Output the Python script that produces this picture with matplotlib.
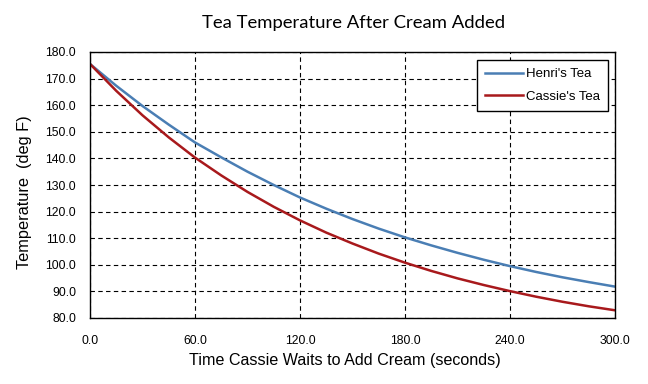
import matplotlib
matplotlib.use("Agg")
import matplotlib.pyplot as plt
from matplotlib.ticker import FixedLocator

time_s = [0, 15, 30, 45, 60, 75, 90, 105, 120, 135, 150, 165, 180,
          195, 210, 225, 240, 255, 270, 285, 300]
henri = [175.5, 167.3, 159.7, 152.7, 146.0, 140.4, 135.0, 130.0, 125.3, 121.1,
         117.2, 113.6, 110.3, 107.3, 104.5, 101.9, 99.5, 97.3, 95.3, 93.5, 91.8]
cassie = [175.5, 165.4, 156.2, 147.9, 140.3, 133.6, 127.4, 121.8, 116.7, 112.1,
          108.0, 104.2, 100.8, 97.7, 94.9, 92.4, 90.1, 88.0, 86.1, 84.4, 82.9]
x_ticks = [0, 60, 120, 180, 240, 300]
y_ticks = [80, 90, 100, 110, 120, 130, 140, 150, 160, 170, 180]

fig = plt.figure(figsize=(6.48, 3.84), dpi=100)
ax = fig.add_axes([90/648, 1-318/384, (615-90)/648, (318-52)/384])

ax.plot(time_s, henri, color="#4a7eb4", lw=1.8, label="Henri's Tea")
ax.plot(time_s, cassie, color="#a8191c", lw=1.8, label="Cassie's Tea")

ax.set_xlim(0, 300)
ax.set_ylim(80, 180)
ax.xaxis.set_major_locator(FixedLocator(x_ticks))
ax.yaxis.set_major_locator(FixedLocator(y_ticks))
ax.set_xticklabels([f"{v:.1f}" for v in x_ticks])
ax.set_yticklabels([f"{v:.1f}" for v in y_ticks])
ax.tick_params(length=0, labelsize=8.8)
for lab in ax.get_xticklabels() + ax.get_yticklabels():
    lab.set_family("Liberation Sans")
ax.tick_params(axis="y", pad=10)
ax.tick_params(axis="x", pad=12)
ax.grid(True, color="black", linestyle=(0, (4, 3)), linewidth=0.8)
for s in ax.spines.values():
    s.set_linewidth(1.0)
    s.set_color("black")

fig.text(345/648, 1-360/384, "Time Cassie Waits to Add Cream (seconds)",
         family="Liberation Sans", fontsize=11.6, ha="center", va="center")
fig.text(25/648, 1-192/384, "Temperature  (deg F)", family="Liberation Sans",
         fontsize=11.8, ha="center", va="center", rotation=90)
fig.text(354/648, 1-23/384, "Tea Temperature After Cream Added", family="Lato",
         fontsize=13.3, ha="center", va="center")

leg = ax.legend(loc="upper right", bbox_to_anchor=(1-7/525, 1-8/266),
                prop={"family": "Liberation Sans", "size": 9.5}, fancybox=False,
                framealpha=1, edgecolor="black", borderpad=0.6, labelspacing=0.8,
                handlelength=2.9, handletextpad=0.2, borderaxespad=0)
leg.get_frame().set_linewidth(1.0)

fig.savefig("out.png", dpi=100)
